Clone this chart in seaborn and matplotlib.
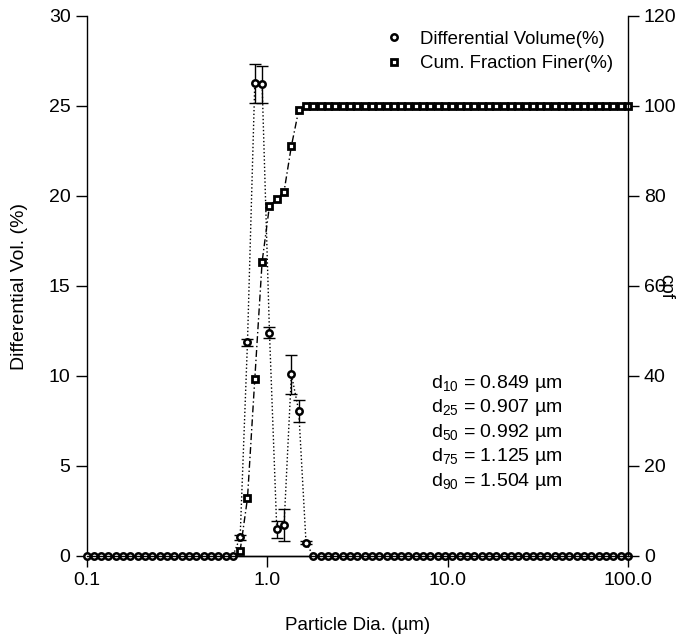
import matplotlib
matplotlib.use("Agg")
import numpy as np
import matplotlib.pyplot as plt
from matplotlib.lines import Line2D
import seaborn as sns

# particle size bins (um), geometric grid
size_um = [0.1, 0.1098, 0.1205, 0.1323, 0.1453, 0.1595, 0.1751, 0.1922, 0.2110, 0.2317,
           0.2543, 0.2792, 0.3065, 0.3365, 0.3694, 0.4056, 0.4452, 0.4888, 0.5366, 0.5891,
           0.6467, 0.7100, 0.7795, 0.8557, 0.9397, 1.032, 1.133, 1.243, 1.365, 1.499,
           1.645, 1.806, 1.983, 2.177, 2.390, 2.624, 2.880, 3.162, 3.472, 3.811,
           4.184, 4.594, 5.043, 5.537, 6.078, 6.673, 7.326, 8.043, 8.830, 9.694,
           10.64, 11.68, 12.83, 14.08, 15.46, 16.97, 18.63, 20.46, 22.46, 24.65,
           27.07, 29.72, 32.62, 35.81, 39.32, 43.17, 47.39, 52.03, 57.12, 62.70,
           68.84, 75.57, 82.97, 91.09, 100.0]

# differential volume (%) and its error bars
diff_vol = [0.0] * 21 + [1.04, 11.87, 26.26, 26.2, 12.41, 1.48, 1.72, 10.09, 8.06, 0.74] + [0.0] * 44
diff_err = [0.0] * 21 + [0.15, 0.2, 1.1, 1.05, 0.3, 0.48, 0.87, 1.1, 0.62, 0.1] + [0.0] * 44

# cumulative fraction finer (%), starts at bin 21
cpf_size = size_um[21:]
cpf = [1.2, 12.8, 39.3, 65.4, 77.8, 79.3, 81.0, 91.1, 99.1, 99.9] + [100.0] * 44

d_labels = ["10", "25", "50", "75", "90"]
d_values = ["0.849", "0.907", "0.992", "1.125", "1.504"]

sns.set_style("ticks")
plt.rcParams["font.family"] = ["Liberation Sans", "DejaVu Sans"]
plt.rcParams["mathtext.fontset"] = "custom"
plt.rcParams["mathtext.rm"] = "Liberation Sans"
plt.rcParams["mathtext.it"] = "Liberation Sans"
for k in ["text.color", "axes.labelcolor", "xtick.color", "ytick.color", "axes.edgecolor"]:
    plt.rcParams[k] = "black"

fig = plt.figure(figsize=(6.94, 6.42), dpi=100)
ax = fig.add_axes([86.5 / 694, 86 / 642, 541.5 / 694, 540 / 642])
ax2 = ax.twinx()

sns.lineplot(x=size_um, y=diff_vol, ax=ax, color="black", linestyle=":", linewidth=1,
             marker="o", markersize=4.6, markerfacecolor="white", markeredgecolor="black",
             markeredgewidth=1.8, clip_on=False, zorder=3)
x_err = [s for s, e in zip(size_um, diff_err) if e > 0]
y_err = [v for v, e in zip(diff_vol, diff_err) if e > 0]
e_err = [e for e in diff_err if e > 0]
ax.errorbar(x_err, y_err, yerr=e_err, fmt="none", ecolor="black", elinewidth=1,
            capsize=4.3, capthick=1, zorder=2)

sns.lineplot(x=cpf_size, y=cpf, ax=ax2, color="black", linestyle=(0, (5, 2, 1, 2)), linewidth=1,
             marker="s", markersize=4.5, markerfacecolor="white", markeredgecolor="black",
             markeredgewidth=2.0, clip_on=False)

ax.set_xscale("log")
ax.set_xlim(0.1, 100)
ax.set_ylim(0, 30)
ax2.set_ylim(0, 120)
ax.set_xticks([0.1, 1, 10, 100])
ax.set_xticklabels(["0.1", "1.0", "10.0", "100.0"])
ax.xaxis.set_minor_locator(matplotlib.ticker.NullLocator())
ax.set_yticks([0, 5, 10, 15, 20, 25, 30])
ax2.set_yticks([0, 20, 40, 60, 80, 100, 120])

for a in (ax, ax2):
    a.spines["top"].set_visible(False)
    for s in a.spines.values():
        s.set_linewidth(1)
    a.tick_params(direction="out", length=8, width=1, labelsize=14, colors="black")
ax.spines["right"].set_visible(False)
ax2.spines["left"].set_visible(False)

ax.set_xlabel("Particle Dia. (µm)", fontsize=13.5, labelpad=20)
ax.set_ylabel("Differential Vol. (%)", fontsize=14, labelpad=15)
ax2.set_ylabel("cpf", fontsize=13.5, rotation=270, labelpad=-2)

for i, (lab, val) in enumerate(zip(d_labels, d_values)):
    ax.text(0.758, 0.320 - i * 0.0454, r"d$_{\mathrm{%s}}$ = %s µm" % (lab, val),
            transform=ax.transAxes, ha="center", va="center", fontsize=14)

handles = [Line2D([], [], linestyle="none", marker="o", markersize=4.6, markerfacecolor="white",
                  markeredgecolor="black", markeredgewidth=1.8, color="black"),
           Line2D([], [], linestyle="none", marker="s", markersize=4.5, markerfacecolor="white",
                  markeredgecolor="black", markeredgewidth=2.0, color="black")]
ax2.legend(handles, ["Differential Volume(%)", "Cum. Fraction Finer(%)"], loc="upper right",
           frameon=False, handlelength=1, handletextpad=0.9, labelspacing=0.4, fontsize=13.4,
           borderaxespad=0.3, borderpad=0.5)

fig.savefig("out.png", dpi=100)
